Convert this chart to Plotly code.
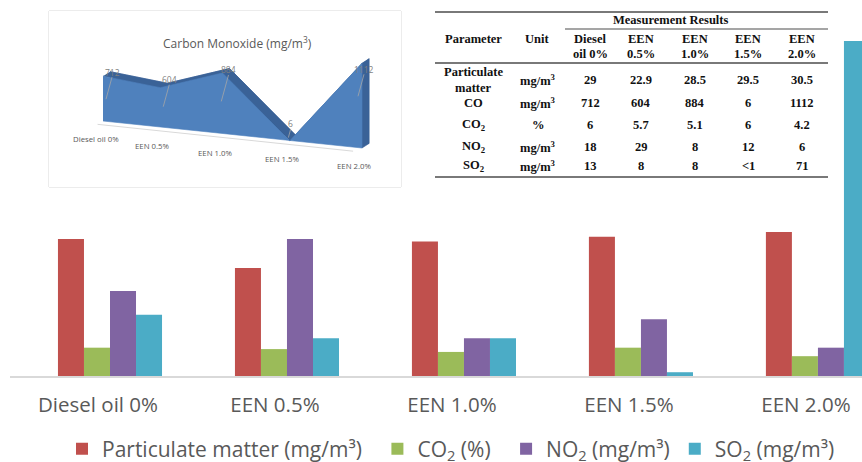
import plotly.graph_objects as go

# ---------------------------------------------------------------- data
categories = ["Diesel oil 0%", "EEN 0.5%", "EEN 1.0%", "EEN 1.5%", "EEN 2.0%"]

pm_values = [29, 22.9, 28.5, 29.5, 30.5]      # particulate matter, mg/m3
co_values = [712, 604, 884, 6, 1112]          # carbon monoxide, mg/m3
co2_values = [6, 5.7, 5.1, 6, 4.2]            # CO2, %
no2_values = [18, 29, 8, 12, 6]               # NO2, mg/m3
so2_values = [13, 8, 8, 0.8, 71]              # SO2, mg/m3 (EEN 1.5% measured below 1)

series_names = ["Particulate matter (mg/m³)", "CO<sub>2</sub> (%)",
                "NO<sub>2</sub> (mg/m³)", "SO<sub>2</sub> (mg/m³)"]
series_colors = ["#c0504d", "#9bbb59", "#8064a2", "#4bacc6"]
# extra space after a legend entry (en spaces) to widen the gap to the next entry
legend_pad = [1, 1, 0, 0]

table_params = ["Particulate<br>matter", "CO", "CO<sub>2</sub>", "NO<sub>2</sub>", "SO<sub>2</sub>"]
table_units = ["mg/m<sup>3</sup>", "mg/m<sup>3</sup>", "%", "mg/m<sup>3</sup>", "mg/m<sup>3</sup>"]
table_rows = [pm_values, co_values, co2_values, no2_values, so2_values]

# ---------------------------------------------------------------- helpers
W, H = 862, 462
GREY = "#595959"
SANS = "Open Sans"
SERIF = "Liberation Serif"


def px(x):
    return x / W


def py(y):
    return 1 - y / H


def fmt(v):
    return "&lt;1" if v < 1 else f"{v:g}"


fig = go.Figure()

# ---------------------------------------------------------------- main grouped bars
for name, vals, col, pad in zip(series_names, [pm_values, co2_values, no2_values, so2_values],
                                series_colors, legend_pad):
    fig.add_trace(go.Bar(x=categories, y=vals, name=name + "\u2002" * pad, marker_color=col,
                         marker_line_width=0, xaxis="x", yaxis="y"))

# ---------------------------------------------------------------- 3-D style CO inset
# The inset axes are measured in screen pixels of the inset box; points are
# placed there by a small oblique-perspective projection of (category, value, depth).
BOX_L, BOX_T, BOX_R, BOX_B = 49, 11, 401, 187
CAM = dict(x0=54, sx=54.75, ax=2.5, y0=110, slant=6.75, k0=0.063, kp=0.0524, dx=7, dy=4.5)
DARK = "#3a6297"
FRONT = "#4f81bd"


def project(i, v, d=0.0):
    x = CAM["x0"] + CAM["sx"] * i + CAM["ax"] * i * i + d * CAM["dx"]
    y = CAM["y0"] + CAM["slant"] * i - v * CAM["k0"] * (1 + CAM["kp"] * i) - d * CAM["dy"]
    return x, y


def polygon(points, color):
    fig.add_trace(go.Scatter(x=[p[0] for p in points], y=[p[1] for p in points],
                             fill="toself", fillcolor=color, mode="lines",
                             line=dict(width=0.6, color=color), hoverinfo="skip",
                             showlegend=False, xaxis="x2", yaxis="y2"))


n = len(co_values)
outline = [(i, v) for i, v in enumerate(co_values)] + [(n - 1, 0), (0, 0)]

# back wall, then the ribbons joining front and back edges
polygon([project(i, v, 1) for i, v in outline], DARK)
for (i0, v0), (i1, v1) in zip(outline[:-2], outline[1:-1]):
    polygon([project(i0, v0), project(i1, v1), project(i1, v1, 1), project(i0, v0, 1)], DARK)
# front wall
polygon([project(i, v) for i, v in outline], FRONT)

# floor line just in front of the area
f0 = project(-0.1, 0)
f1 = project(3.88, 0)
fig.add_trace(go.Scatter(x=[f0[0], f1[0]], y=[f0[1] + 4, f1[1] + 4], mode="lines",
                         line=dict(color="#d9d9d9", width=1), hoverinfo="skip",
                         showlegend=False, xaxis="x2", yaxis="y2"))

# data labels with leader lines
label_shift = [(9, -4), (9, -8), (6, -3), (1, -17), (2, 6)]
leader_scale = [1, 1, 1.2, 0.4, 1]
lead_x, lead_y = [], []
annotations = []
for i, v in enumerate(co_values):
    tx, ty = project(i, v)
    lx, ly = tx + label_shift[i][0], ty + label_shift[i][1]
    annotations.append(dict(x=lx, y=ly, xref="x2", yref="y2", text=f"{v:g}", showarrow=False,
                            xanchor="center", yanchor="middle",
                            font=dict(family=SANS, size=8.5, color="#7f7f7f")))
    s = leader_scale[i]
    lead_x += [lx, lx - 6 * s, None]
    lead_y += [ly + 5, ly + 5 + 22 * s, None]
fig.add_trace(go.Scatter(x=lead_x, y=lead_y, mode="lines", line=dict(color="#a6a6a6", width=0.8),
                         hoverinfo="skip", showlegend=False, xaxis="x2", yaxis="y2"))

# category labels under the inset floor
for i, c in enumerate(categories):
    bx, by = project(i, 0)
    annotations.append(dict(x=bx - 7.5, y=by + 18, xref="x2", yref="y2", text=c, showarrow=False,
                            xanchor="center", yanchor="middle",
                            font=dict(family=SANS, size=7.8, color=GREY)))

annotations.append(dict(x=px(237), y=py(43), xref="paper", yref="paper",
                        xanchor="center", yanchor="middle",
                        text="Carbon Monoxide (mg/m<sup>3</sup>)", showarrow=False,
                        font=dict(family=SANS, size=12, color=GREY)))

shapes = [dict(type="rect", xref="paper", yref="paper", x0=px(BOX_L), x1=px(BOX_R),
               y0=py(BOX_B), y1=py(BOX_T), line=dict(color="#d9d9d9", width=1), layer="below")]

# ---------------------------------------------------------------- measurement table
T_L, T_R = 435, 828
col_x = [590, 641, 695, 748, 802]
row_y = [80, 103, 125, 147, 166]
tfont = dict(family=SERIF, size=12.5, color="#111111")


def tcell(x, y, text):
    annotations.append(dict(x=px(x), y=py(y), xref="paper", yref="paper", text=f"<b>{text}</b>",
                            showarrow=False, font=tfont, xanchor="center", yanchor="middle"))


for y0, xa, lw in [(12, T_L, 1.6), (29, 565, 1.2), (63, T_L, 1.6), (177, T_L, 1.6)]:
    shapes.append(dict(type="line", xref="paper", yref="paper", x0=px(xa), x1=px(T_R),
                       y0=py(y0), y1=py(y0), line=dict(color="#4d4d4d", width=lw)))

tcell(671, 20, "Measurement Results")
tcell(473, 39, "Parameter")
tcell(537, 39, "Unit")
for x, c in zip(col_x, categories):
    top, bottom = c.split(" ", 1)
    tcell(x, 39, top)
    tcell(x, 54, bottom)
for y, p, u, vals in zip(row_y, table_params, table_units, table_rows):
    if "<br>" in p:
        a, b = p.split("<br>")
        tcell(473, y - 8.5, a)
        tcell(473, y + 8, b)
    else:
        tcell(473, y, p)
    tcell(538, y, u)
    for x, v in zip(col_x, vals):
        tcell(x, y, fmt(v))

# ---------------------------------------------------------------- layout
fig.update_layout(
    width=W, height=H,
    margin=dict(l=0, r=0, t=0, b=0, autoexpand=False),
    paper_bgcolor="white", plot_bgcolor="white",
    barmode="group", bargap=0.412, bargroupgap=0,
    font=dict(family=SANS, color=GREY),
    xaxis=dict(domain=[px(10), 1], range=[-0.565, 4.249], showline=True, linecolor="#d9d9d9",
               linewidth=2, showgrid=False, zeroline=False, ticks="",
               tickfont=dict(family=SANS, size=20.5, color=GREY),
               ticklabelstandoff=9, ticklabelshift=-12, fixedrange=True),
    yaxis=dict(domain=[py(376), 1], range=[0, 79.66], visible=False, fixedrange=True),
    xaxis2=dict(domain=[px(BOX_L), px(BOX_R)], range=[0, BOX_R - BOX_L], visible=False,
                anchor="y2", fixedrange=True),
    yaxis2=dict(domain=[py(BOX_B), py(BOX_T)], range=[BOX_B - BOX_T, 0], visible=False,
                anchor="x2", fixedrange=True),
    legend=dict(orientation="h", x=px(62), xanchor="left", y=py(449), yanchor="middle",
                font=dict(family=SANS, size=21, color=GREY), itemwidth=30,
                bgcolor="rgba(0,0,0,0)"),
    annotations=annotations,
    shapes=shapes,
)

fig.write_html("out.html")
